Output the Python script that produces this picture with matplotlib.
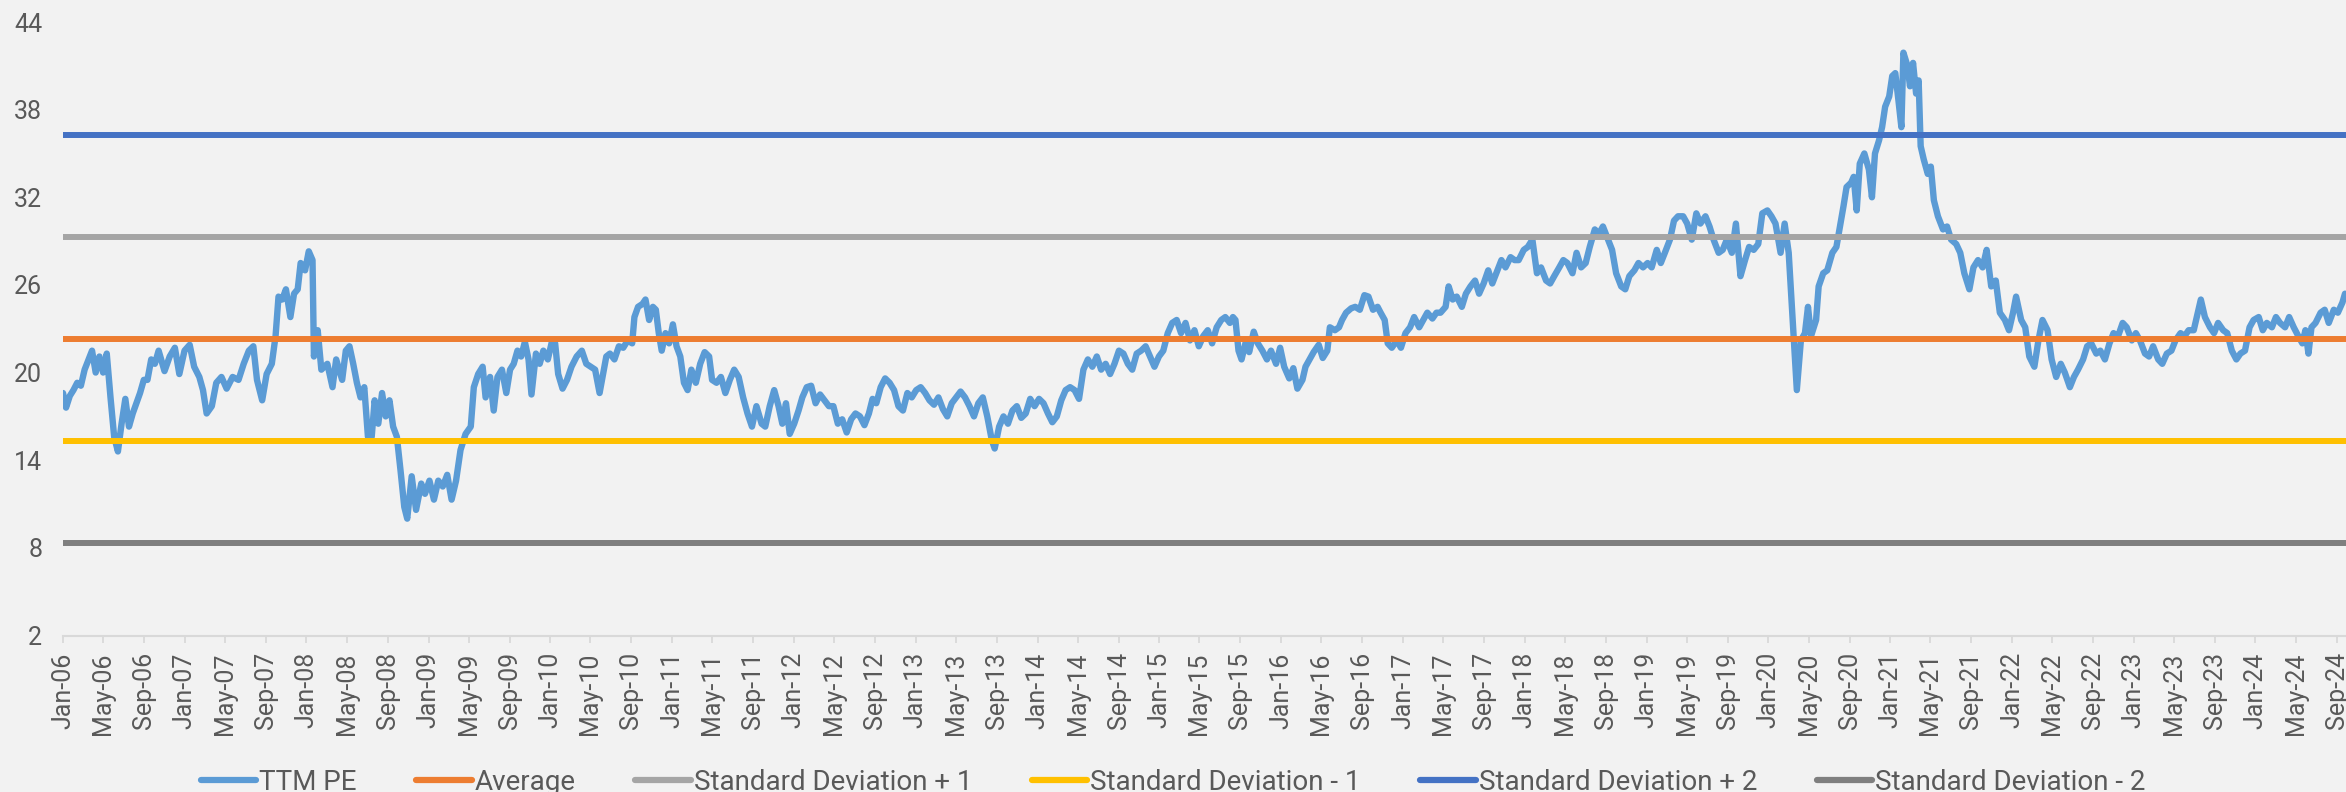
import numpy as np
import pandas as pd
import matplotlib
matplotlib.use("Agg")
import matplotlib.pyplot as plt
import matplotlib.dates as mdates

# ---- data ----------------------------------------------------------------
# months elapsed since 1 Jan 2006, and the trailing twelve month PE there
months = [
    0.0, 0.3, 0.67, 1.03, 1.4, 1.76, 2.13, 2.86, 3.22, 3.59, 3.95, 4.31, 4.68, 5.04, 5.41, 5.77,
    6.14, 6.5, 6.87, 7.23, 7.59, 7.96, 8.32, 8.69, 9.05, 9.42, 10.0, 10.51, 11.02, 11.46, 11.97,
    12.48, 12.92, 13.43, 13.79, 14.15, 14.66, 15.1, 15.61, 16.12, 16.71, 17.29, 17.8, 18.31,
    18.75, 19.11, 19.62, 20.06, 20.57, 20.94, 21.23, 21.59, 21.96, 22.4, 22.76, 23.12, 23.41,
    23.85, 24.21, 24.58, 24.72, 25.09, 25.45, 26.04, 26.55, 26.91, 27.5, 27.86, 28.22, 28.59,
    28.95, 29.31, 29.68, 30.04, 30.41, 30.7, 31.06, 31.43, 31.79, 32.16, 32.52, 32.89, 33.25,
    33.62, 33.91, 34.35, 34.78, 35.29, 35.66, 36.1, 36.54, 36.97, 37.41, 37.85, 38.28, 38.72,
    39.16, 39.66, 40.17, 40.47, 40.9, 41.34, 41.63, 42.07, 42.43, 42.8, 43.24, 43.67, 44.04,
    44.4, 44.77, 45.13, 45.5, 45.86, 46.15, 46.59, 46.96, 47.32, 47.76, 48.19, 48.48, 48.78,
    49.21, 49.65, 50.09, 50.6, 51.11, 51.55, 51.99, 52.42, 52.86, 53.15, 53.52, 53.88, 54.32,
    54.76, 55.19, 55.63, 56.07, 56.29, 56.65, 57.09, 57.38, 57.74, 58.11, 58.4, 58.69, 58.98,
    59.35, 59.71, 60.08, 60.44, 60.81, 61.17, 61.53, 61.9, 62.34, 62.77, 63.21, 63.65, 63.94,
    64.38, 64.81, 65.25, 65.69, 66.12, 66.56, 67.0, 67.43, 67.87, 68.31, 68.82, 69.18, 69.62,
    70.06, 70.49, 70.86, 71.22, 71.59, 72.03, 72.46, 72.83, 73.27, 73.7, 74.14, 74.58, 75.01,
    75.45, 75.89, 76.33, 76.76, 77.2, 77.64, 78.07, 78.51, 78.95, 79.39, 79.75, 80.12, 80.55,
    80.99, 81.43, 81.87, 82.3, 82.74, 83.18, 83.61, 84.05, 84.49, 84.93, 85.36, 85.8, 86.24,
    86.68, 87.11, 87.55, 87.99, 88.42, 88.86, 89.3, 89.74, 90.17, 90.61, 91.05, 91.49, 91.78,
    92.22, 92.65, 93.09, 93.53, 93.96, 94.4, 94.84, 95.28, 95.71, 96.15, 96.59, 97.03, 97.46,
    97.9, 98.34, 98.77, 99.21, 99.65, 100.09, 100.52, 100.96, 101.4, 101.84, 102.27, 102.71,
    103.15, 103.58, 104.02, 104.46, 104.9, 105.33, 105.77, 106.21, 106.65, 107.08, 107.52,
    107.96, 108.39, 108.83, 109.27, 109.71, 110.14, 110.58, 111.02, 111.46, 111.89, 112.33,
    112.77, 113.2,
    113.65, 114.1, 114.5, 114.95, 115.25, 115.5, 115.8, 116.1, 116.55, 116.85, 117.3, 117.7,
    118.15, 118.6, 119.0, 119.5, 119.9, 120.3, 120.8, 121.2, 121.6, 122.1, 122.4, 122.8, 123.2,
    123.7, 124.1, 124.55, 124.8, 125.3, 125.7, 126.0, 126.4, 126.9, 127.3, 127.75, 128.2, 128.6,
    129.05, 129.5, 129.8, 130.2, 130.5, 130.9, 131.4, 131.8, 132.25, 132.7, 133.1, 133.6, 134.0,
    134.4, 134.9, 135.3, 135.7, 136.2, 136.5, 136.9, 137.3, 137.8, 138.2, 138.65, 139.1, 139.5,
    139.95, 140.4, 140.8, 141.3, 141.7, 142.1, 142.6, 143.0, 143.4, 143.9, 144.3, 144.75, 145.2,
    145.6, 146.1, 146.5, 146.9, 147.4, 147.8, 148.2, 148.7, 149.1, 149.55, 150.0, 150.4, 150.9,
    151.3, 151.7, 152.2, 152.6, 153.0, 153.5, 153.9, 154.3, 154.8, 155.2, 155.65, 156.1, 156.5,
    157.0, 157.4, 157.8, 158.3, 158.7, 159.1, 159.6, 160.0, 160.45, 160.9, 161.3, 161.8, 162.2,
    162.6, 163.1, 163.5, 163.9, 164.4, 164.8, 165.25, 165.7, 166.1, 166.55, 167.0, 167.4, 167.9,
    168.3, 168.7, 169.2, 169.6, 170.0, 170.3, 170.6, 170.8, 171.2, 171.6, 171.9, 172.2, 172.7,
    172.95, 173.4, 173.8, 174.3, 174.7, 175.0, 175.4, 175.7, 176.15, 176.4, 176.7, 177.0, 177.45,
    177.9, 178.2, 178.5, 178.9, 179.2, 179.5, 179.9, 180.2, 180.5, 180.8, 181.1, 181.3, 181.7,
    181.95, 182.25, 182.55, 182.8, 183.0, 183.3, 183.7, 184.0, 184.3, 184.7, 185.2, 185.6, 186.0,
    186.5, 186.9, 187.3, 187.8, 188.2, 188.65, 189.1, 189.5, 189.95, 190.4, 190.8, 191.3, 191.7,
    192.1, 192.4, 192.9, 193.3, 193.7, 194.2, 194.6, 195.0, 195.5, 195.9, 196.35, 196.8, 197.2,
    197.7, 198.1, 198.5, 199.0, 199.4, 199.8, 200.3, 200.7, 201.15, 201.6, 202.0, 202.45, 202.9,
    203.3, 203.8, 204.2, 204.6, 205.1, 205.5, 205.9, 206.4, 206.8, 207.25, 207.7, 208.1, 208.6,
    209.0, 209.4, 209.9, 210.3, 210.6, 211.0, 211.5, 211.9, 212.3, 212.8, 213.2, 213.65, 214.1,
    214.5, 214.95, 215.4, 215.8, 216.3, 216.7, 217.1, 217.6, 218.0, 218.4, 218.9, 219.3, 219.75,
    220.2, 220.6, 220.9, 221.2, 221.5, 221.9, 222.4, 222.8, 223.2, 223.7, 224.1, 224.55, 224.8,
]
ttm_pe = [
    18.6, 17.6, 18.4, 18.8, 19.3, 19.1, 20.2, 21.5, 20.0, 21.1, 20.0, 21.3, 18.3, 15.6, 14.6, 16.5,
    18.2, 16.3, 17.2, 17.9, 18.6, 19.5, 19.5, 20.9, 20.6, 21.5, 20.1, 21.1, 21.7, 19.9, 21.5,
    21.9, 20.4, 19.7, 18.8, 17.2, 17.7, 19.3, 19.7, 18.9, 19.7, 19.5, 20.6, 21.5,
    21.8, 19.5, 18.1, 19.9, 20.6, 22.5, 25.2, 25.0, 25.7, 23.8, 25.4, 25.7, 27.5,
    27.0, 28.3, 27.7, 21.1, 22.9, 20.2, 20.6, 19.0, 20.9, 19.5, 21.5, 21.8, 20.6,
    19.3, 18.3, 19.0, 15.6, 15.6, 18.1, 16.5, 18.6, 17.0, 18.1, 16.3, 15.6, 13.3,
    10.8, 10.0, 12.9, 10.6, 12.4, 11.7, 12.6, 11.3, 12.6, 12.2, 13.0, 11.3, 12.6,
    14.7, 15.8, 16.3, 19.0, 19.9, 20.4, 18.3, 19.7, 17.4, 19.7, 20.2, 18.6, 20.2,
    20.6, 21.5, 21.1, 22.1, 20.9, 18.5, 21.3, 20.6, 21.5, 20.9, 22.2, 22.0, 19.9,
    18.9, 19.5, 20.4, 21.1, 21.5, 20.6, 20.4, 20.2, 18.6, 19.7, 21.1, 21.3, 20.9,
    21.8, 21.7, 22.2, 22.0, 23.8, 24.5, 24.7, 25.0, 23.6, 24.5, 24.3, 22.7, 21.5,
    22.7, 22.0, 23.3, 21.8, 21.1, 19.3, 18.8, 20.2, 19.3, 20.6, 21.4, 21.1, 19.5,
    19.3, 19.7, 18.6, 19.5, 20.2, 19.7, 18.3, 17.2, 16.3, 17.7, 16.5, 16.3, 17.7,
    18.8, 17.7, 16.5, 17.9, 15.8, 16.5, 17.4, 18.3, 19.0, 19.1, 17.9, 18.5, 18.1,
    17.7, 17.7, 16.5, 16.8, 15.9, 16.8, 17.2, 17.0, 16.4, 17.2, 18.2, 17.9, 19.0,
    19.6, 19.3, 18.8, 17.7, 17.4, 18.6, 18.3, 18.8, 19.0, 18.6, 18.1, 17.8, 18.3,
    17.5, 17.0, 17.9, 18.3, 18.7, 18.3, 17.7, 17.0, 17.9, 18.3, 17.0, 15.4, 14.8,
    16.3, 17.0, 16.5, 17.4, 17.7, 16.9, 17.2, 18.2, 17.7, 18.2, 17.9, 17.2, 16.6,
    17.0, 18.1, 18.8, 19.0, 18.8, 18.2, 20.2, 20.9, 20.4, 21.1, 20.2, 20.6,
    19.9, 20.6, 21.5, 21.3, 20.6, 20.2, 21.3, 21.5, 21.8, 21.1, 20.4,
    21.1, 21.5, 22.7, 23.4, 23.6, 22.7, 23.4, 22.2, 22.9, 21.8, 22.5,
    22.9, 22.0,
    23.1, 23.6, 23.8, 23.4, 23.8, 23.6, 21.5, 20.9, 22.2, 21.4, 22.8, 22.0,
    21.5, 20.9, 21.5, 20.6, 21.7, 20.4, 19.6, 20.3, 18.9, 19.5, 20.4, 20.9, 21.4,
    21.9, 21.0, 21.5, 23.1, 22.9, 23.1, 23.6, 24.1, 24.4, 24.5, 24.3, 25.3, 25.2,
    24.3, 24.5, 24.1, 23.6, 22.0, 21.7, 22.2, 21.7, 22.7, 23.1, 23.8, 23.1, 23.6,
    24.1, 23.7, 24.1, 24.1, 24.5, 25.9, 25.0, 25.2, 24.5, 25.4, 25.9, 26.3, 25.4,
    26.1, 27.0, 26.1, 27.0, 27.7, 27.2, 27.9, 27.7, 27.7, 28.4, 28.6, 29.1, 26.8,
    27.2, 26.3, 26.1, 26.6, 27.2, 27.7, 27.5, 26.8, 28.2, 27.2, 27.5, 28.6, 29.8,
    29.5, 30.0, 29.1, 28.4, 26.8, 25.9, 25.7, 26.6, 27.0, 27.5, 27.2, 27.5, 27.2,
    28.4, 27.5, 28.2, 29.1, 30.4, 30.7, 30.7, 30.2, 29.1, 30.9, 30.2, 30.7, 30.0,
    29.1, 28.2, 28.4, 29.1, 28.2, 30.2, 26.6, 27.7, 28.6, 28.4, 28.8, 30.9, 31.1,
    30.7, 30.2, 28.2, 30.2, 28.2, 24.7, 21.3, 18.8, 22.2, 22.7, 24.5, 22.5, 23.6,
    25.9, 26.8, 27.0, 28.2, 28.6, 29.8, 31.4, 32.7, 33.0, 33.4, 31.1, 34.3, 35.0,
    33.9, 32.0, 35.0, 35.9, 36.8, 38.2, 38.9, 40.3, 40.5, 38.7, 36.8, 41.9, 41.0,
    39.6, 41.2, 39.1, 40.0, 35.5, 34.6, 33.6, 34.1, 31.8, 30.7, 29.8, 30.0, 29.1,
    28.8, 28.2, 26.8, 25.7, 27.2, 27.7, 27.2, 28.4, 25.9, 26.3, 24.1, 23.6, 22.9,
    24.1, 25.2, 23.6, 23.1, 21.1, 20.4, 22.2, 23.6, 22.9, 20.9, 19.7, 20.6, 20.0,
    19.0, 19.7, 20.2, 20.9, 21.8, 22.0, 21.3, 21.5, 20.9, 22.0, 22.7, 22.5, 23.4,
    23.1, 22.2, 22.7, 22.2, 21.3, 21.1, 21.8, 20.9, 20.6, 21.3, 21.5, 22.2, 22.7,
    22.5, 22.9, 22.9, 24.1, 25.0, 23.8, 23.1, 22.7, 23.4, 22.9, 22.7, 21.5, 20.9,
    21.3, 21.5, 23.1, 23.6, 23.8, 22.9, 23.4, 23.1, 23.8, 23.4, 23.1, 23.8, 23.1,
    22.5, 22.0, 22.9, 21.3, 23.1, 23.4, 24.1, 24.3, 23.4, 24.3, 24.1, 24.8, 25.4,
]

band_labels = ["Average", "Standard Deviation + 1", "Standard Deviation - 1",
               "Standard Deviation + 2", "Standard Deviation - 2"]
band_values = [22.30, 29.28, 15.32, 36.26, 8.34]
band_colors = ["#ed7d31", "#a5a5a5", "#ffc000", "#4472c4", "#7f7f7f"]

y_ticks = list(range(2, 45, 6))
last_month = 224.9          # right edge of the plot area

# ---- figure --------------------------------------------------------------
plt.rcParams["font.family"] = ["Roboto", "DejaVu Sans"]
BG = "#f2f2f2"
TXT = "#595959"

W, H = 2346, 792
fig = plt.figure(figsize=(W / 100, H / 100), dpi=100, facecolor=BG)
ax = fig.add_axes([63 / W, 1 - 635.5 / H, (W - 63) / W, (635.5 - 22) / H])
ax.set_facecolor(BG)

start = pd.Timestamp("2006-01-01")
dates = start + pd.to_timedelta(np.array(months) * 30.4375, unit="D")

handles = []
h, = ax.plot(dates, ttm_pe, color="#5b9bd5", lw=4.6, solid_joinstyle="round",
             solid_capstyle="round", label="TTM PE", zorder=2)
handles.append(h)
for lab, val, col in zip(band_labels, band_values, band_colors):
    h = ax.axhline(val, color=col, lw=4.3, label=lab, zorder=3, solid_capstyle="butt")
    handles.append(h)

ax.set_ylim(2, 44)
ax.set_yticks(y_ticks)
ax.set_xlim(start, start + pd.Timedelta(days=last_month * 30.4375))
ax.xaxis.set_major_locator(mdates.MonthLocator(bymonth=[1, 5, 9]))
ax.xaxis.set_major_formatter(mdates.DateFormatter("%b-%y"))

for s in ("top", "right", "left"):
    ax.spines[s].set_visible(False)
ax.spines["bottom"].set_color("#d9d9d9")
ax.spines["bottom"].set_linewidth(1.5)

ax.tick_params(axis="x", rotation=90, labelsize=18, labelcolor=TXT, length=5,
               width=1.3, color="#d9d9d9", pad=7)
ax.tick_params(axis="y", labelsize=18, labelcolor=TXT, length=0, pad=15)

leg = fig.legend(handles=handles, labels=[h.get_label() for h in handles],
                 loc="center", bbox_to_anchor=(0.5, 0.0126), ncol=6, frameon=False,
                 fontsize=20, handlelength=2.0, handletextpad=0.1, columnspacing=2.15,
                 labelcolor=TXT)
for line in leg.get_lines():
    line.set_linewidth(4.5)
    line.set_solid_capstyle("round")

fig.savefig("out.png", dpi=100, facecolor=BG)
